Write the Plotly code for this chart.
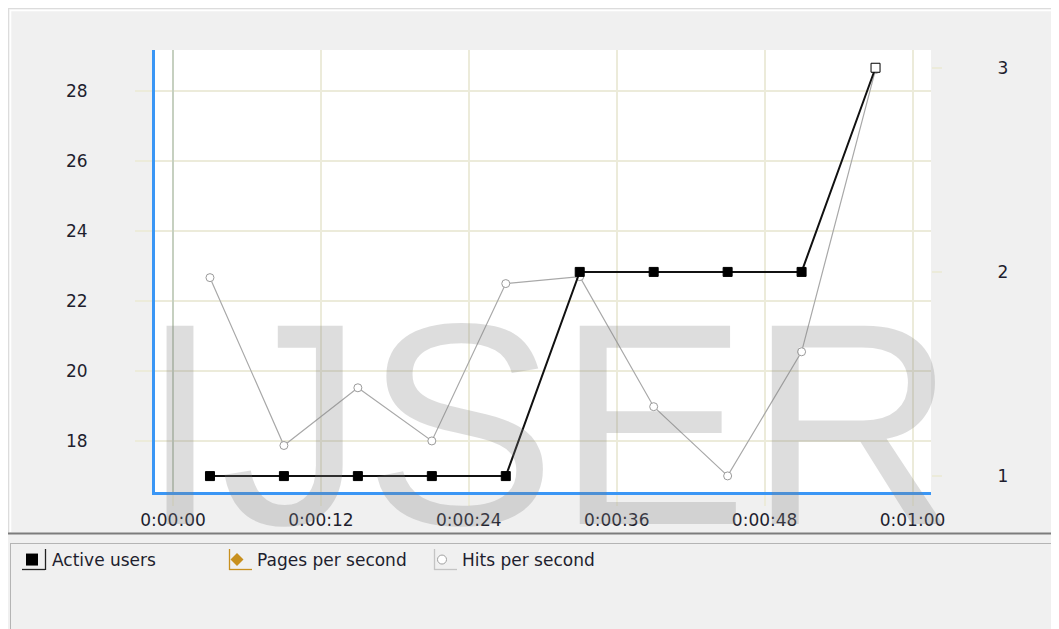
import plotly.graph_objects as go

# ---- data ----
time_s = [3, 9, 15, 21, 27, 33, 39, 45, 51, 57]
active_users = [1, 1, 1, 1, 1, 2, 2, 2, 2, 3]
hits_per_second = [22.67, 17.87, 19.52, 18.0, 22.5, 22.7, 18.98, 17.0, 20.55, 28.62]
x_tick_vals = [0, 12, 24, 36, 48, 60]
x_tick_text = ["0:00:00", "0:00:12", "0:00:24", "0:00:36", "0:00:48", "0:01:00"]
y_left_ticks = [18, 20, 22, 24, 26, 28]
y_right_ticks = [1, 2, 3]
legend_names = ["Active users", "Pages per second", "Hits per second"]
legend_colors = ["#222222", "#c8901e", "#c4c4c4"]

# page geometry (the page body adds an 8px margin around the figure)
PAGE_W, PAGE_H = 1059, 629
OFF = 8
W, H = PAGE_W - OFF, PAGE_H - OFF
L, R, T, B = 155, 931, 50, 492          # plot area, page pixels
PW, PH = R - L, B - T

def px(x):
    return (x - L) / PW

def py(y):
    return (B - y) / PH

def cx(x):
    return (x - OFF) / W

def cy(y):
    return 1 - (y - OFF) / H

FONT = "DejaVu Sans"
TXT = "#1e1e2e"
GRID = "#ecebda"

fig = go.Figure()

# Hits per second (left axis)
fig.add_trace(go.Scatter(
    x=time_s, y=hits_per_second, mode="lines+markers", yaxis="y",
    line=dict(color="#a8a8a8", width=1.2),
    marker=dict(symbol="circle", size=8, color="white", line=dict(color="#9a9a9a", width=1)),
    showlegend=False, hoverinfo="skip"))

# Active users (right axis)
mcolors = ["black"] * (len(active_users) - 1) + ["white"]
fig.add_trace(go.Scatter(
    x=time_s, y=active_users, mode="lines+markers", yaxis="y2",
    line=dict(color="#111111", width=2),
    marker=dict(symbol="square", size=9, color=mcolors, line=dict(color="black", width=1)),
    showlegend=False, hoverinfo="skip"))

# legend-only entries
fig.add_trace(go.Scatter(x=[None], y=[None], mode="markers", name=legend_names[0],
                         marker=dict(symbol="square", size=12, color="black")))
fig.add_trace(go.Scatter(x=[None], y=[None], mode="markers", name=legend_names[1],
                         marker=dict(symbol="diamond", size=10, color="#c8901e")))
fig.add_trace(go.Scatter(x=[None], y=[None], mode="markers", name=legend_names[2],
                         marker=dict(symbol="circle", size=9, color="white",
                                     line=dict(color="#a0a0a0", width=1))))

shapes = []
# outer frame
shapes.append(dict(type="line", xref="paper", yref="paper", x0=px(8), x1=px(PAGE_W), y0=py(8.5), y1=py(8.5),
                   line=dict(color="#dcdcdc", width=1)))
shapes.append(dict(type="line", xref="paper", yref="paper", x0=px(8.5), x1=px(8.5), y0=py(8), y1=py(533),
                   line=dict(color="#dcdcdc", width=1)))
shapes.append(dict(type="line", xref="paper", yref="paper", x0=px(10), x1=px(PAGE_W), y0=py(10.5), y1=py(10.5),
                   line=dict(color="#ffffff", width=1.5)))
shapes.append(dict(type="line", xref="paper", yref="paper", x0=px(10.5), x1=px(10.5), y0=py(10), y1=py(532),
                   line=dict(color="#ffffff", width=1.5)))
# separator between chart and legend
shapes.append(dict(type="line", xref="paper", yref="paper", x0=px(8), x1=px(PAGE_W), y0=py(533.5), y1=py(533.5),
                   line=dict(color="#7c7c7c", width=2)))
shapes.append(dict(type="line", xref="paper", yref="paper", x0=px(10), x1=px(PAGE_W), y0=py(543.5), y1=py(543.5),
                   line=dict(color="#b4b4b4", width=1)))
shapes.append(dict(type="line", xref="paper", yref="paper", x0=px(10.5), x1=px(10.5), y0=py(543.5), y1=py(PAGE_H),
                   line=dict(color="#b4b4b4", width=1)))

# legend icon brackets (decorative frames around the legend symbols)
bracket_left = [22, 229, 434]
for i, (x0, col) in enumerate(zip(bracket_left, legend_colors)):
    vx = x0 + 23.5 if i == 0 else x0 + 0.5
    shapes.append(dict(type="line", xref="paper", yref="paper", x0=px(vx), x1=px(vx),
                       y0=py(549), y1=py(570), line=dict(color=col, width=1.3)))
    shapes.append(dict(type="line", xref="paper", yref="paper", x0=px(x0), x1=px(x0 + 23),
                       y0=py(569.5), y1=py(569.5), line=dict(color=col, width=1.3)))

fig.update_layout(
    width=W, height=H,
    margin=dict(l=L - OFF, r=W - (R - OFF), t=T - OFF, b=H - (B - OFF), pad=0),
    paper_bgcolor="#f0f0f0", plot_bgcolor="white",
    font=dict(family=FONT, size=17, color=TXT),
    shapes=shapes,
    xaxis=dict(
        range=[-1.46, 61.5], tickvals=x_tick_vals, ticktext=x_tick_text,
        showgrid=True, gridcolor=GRID, gridwidth=2,
        zeroline=True, zerolinecolor="#c6d0c0", zerolinewidth=2,
        ticks="outside", ticklen=11, tickcolor=GRID, tickwidth=2,
        showline=True, linecolor="#3a96f5", linewidth=3,
        tickfont=dict(family=FONT, size=17, color=TXT),
        fixedrange=True),
    yaxis=dict(
        range=[16.54, 29.18], tickvals=y_left_ticks,
        showgrid=True, gridcolor=GRID, gridwidth=2, zeroline=False,
        ticks="outside", ticklen=17, tickcolor=GRID, tickwidth=2,
        showline=True, linecolor="#3a96f5", linewidth=3,
        ticklabelstandoff=44,
        tickfont=dict(family=FONT, size=17, color=TXT)),
    yaxis2=dict(
        range=[0.922, 3.087], tickvals=y_right_ticks, overlaying="y", side="right",
        showgrid=False, zeroline=False,
        ticks="outside", ticklen=10, tickcolor=GRID, tickwidth=2,
        ticklabelstandoff=52,
        tickfont=dict(family=FONT, size=17, color=TXT)),
    legend=dict(
        orientation="h", xref="container", yref="container",
        x=cx(12), xanchor="left", y=cy(542), yanchor="top",
        bgcolor="rgba(0,0,0,0)", font=dict(family=FONT, size=17, color=TXT),
        entrywidth=160, entrywidthmode="pixels", itemclick=False),
    annotations=[dict(
        text="IJSER", xref="paper", yref="paper", x=px(548), y=py(424),
        xanchor="center", yanchor="middle", showarrow=False,
        font=dict(family="Liberation Sans", size=288, color="rgba(128,128,128,0.27)"))],
)

fig.write_html("out.html")
